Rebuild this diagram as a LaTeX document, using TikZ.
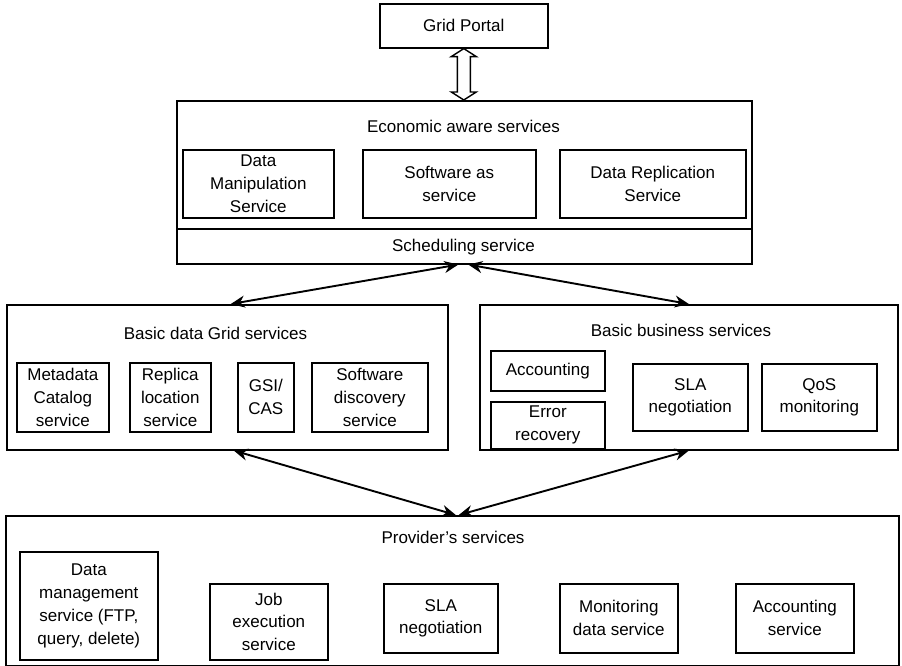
\documentclass[tikz,border=0pt]{standalone}
\usepackage{fontspec}
\setmainfont{Liberation Sans}
\usetikzlibrary{arrows.meta,calc}
\newcommand\fs{\fontsize{17}{22.8}\selectfont}
\newcommand\rbox[6]{\node[bx,anchor=north west,minimum width={#4pt-#2pt},minimum height={#5pt-#3pt}] (#1) at (#2,#3) {#6};}
\begin{document}
\begin{tikzpicture}[x=1pt,y=-1pt,
  every node/.style={font=\fs,align=center,inner sep=0pt},
  bx/.style={draw,line width=1.6pt},
  arr/.style={line width=1.9pt,{Stealth[length=14pt,width=12pt]}-{Stealth[length=14pt,width=12pt]}}]
\fill[white] (0,0) rectangle (902,666);
\useasboundingbox (0,0) rectangle (902,666);

% top
\rbox{portal}{379}{3}{547}{47}{Grid Portal}
\rbox{eco}{176}{100}{751}{263}{}
\node (ecot) at (463.5,126) {Economic aware services};
\rbox{dms}{182}{149}{333}{217}{Data\\Manipulation\\Service}
\rbox{saas}{362}{149}{535}{217}{Software as\\service}
\rbox{drs}{559}{149}{745}{217}{Data Replication\\Service}
\draw[line width=1.6pt] (176,229) -- (751,229);
\node (sched) at (463.5,247) {Scheduling service};

% portal double arrow
\coordinate (pa) at (portal.south);
\coordinate (pb) at (portal.south |- eco.north);
\draw[line width=1.4pt,fill=white,line join=miter]
  (pa) -- ++(12.5,8) -- ++(-6,0) -- ($(pb)+(6.5,-8)$) -- ++(6,0) -- (pb)
  -- ++(-12.5,-8) -- ++(6,0) -- ($(pa)+(-6.5,8)$) -- ++(-6,0) -- cycle;

% basic data grid services
\rbox{grid}{6}{304}{447}{449}{}
\node (gridt) at (215.5,333) {Basic data Grid services};
\rbox{meta}{16}{362}{108}{431}{Metadata\\Catalog\\service}
\rbox{repl}{129}{362}{210}{431}{Replica\\location\\service}
\rbox{gsi}{237}{362}{293}{431}{GSI/\\CAS}
\rbox{swd}{311}{362}{427}{431}{Software\\discovery\\service}

% basic business services
\rbox{biz}{479}{304}{897}{449}{}
\node (bizt) at (681,330) {Basic business services};
\rbox{acc}{490}{350}{604}{390}{Accounting}
\rbox{err}{490}{401}{604}{448}{Error\\recovery}
\rbox{sla}{632}{363}{747}{430}{SLA\\negotiation}
\rbox{qos}{761}{363}{876}{430}{QoS\\monitoring}

% provider
\rbox{prov}{5}{515}{898}{665}{}
\node (provt) at (453,537) {Provider’s services};
\rbox{dm}{19}{551}{157}{659}{Data\\management\\service (FTP,\\query, delete)}
\rbox{job}{209}{583}{327}{659}{Job\\execution\\service}
\rbox{psla}{383}{583}{497}{652}{SLA\\negotiation}
\rbox{mon}{559}{583}{677}{652}{Monitoring\\data service}
\rbox{pacc}{735}{583}{853}{652}{Accounting\\service}

% connectors
\draw[arr] ([xshift=-6pt]eco.south) -- ([xshift=3.5pt]grid.north);
\draw[arr] ([xshift=4pt]eco.south) -- (biz.north);
\draw[arr] ([xshift=6.5pt]grid.south) -- ([xshift=3.5pt]prov.north);
\draw[arr] (biz.south) -- ([xshift=6.5pt]prov.north);
\end{tikzpicture}
\end{document}
